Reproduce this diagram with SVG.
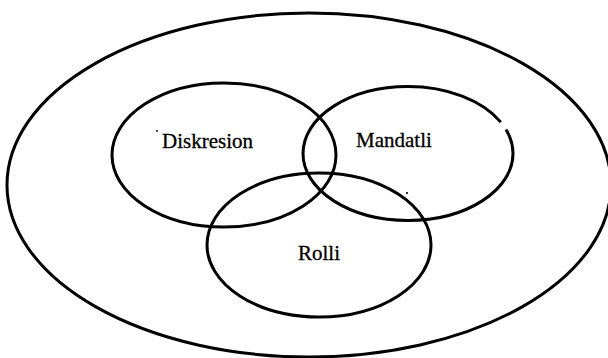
<svg xmlns="http://www.w3.org/2000/svg" width="608" height="358" viewBox="0 0 608 358">
<style>
.ring{fill:none;stroke:#000;stroke-width:3}
.lbl{font-family:"Liberation Serif","Times New Roman",serif;font-size:21px;fill:#000;stroke:#000;stroke-width:0.3}
.dot{fill:#000}
</style>
<rect width="608" height="358" fill="#fff"/>
<g id="outer"><ellipse class="ring" cx="309" cy="185" rx="302" ry="172"/></g>
<g id="diskresion"><ellipse class="ring" cx="224" cy="155" rx="112" ry="72"/><text class="lbl" x="162" y="148">Diskresion</text></g>
<g id="mandatli"><ellipse class="ring" cx="408" cy="153.5" rx="105" ry="67" stroke-dasharray="512 9 100"/><text class="lbl" x="356" y="147">Mandatli</text></g>
<g id="rolli"><ellipse class="ring" cx="319" cy="245" rx="112" ry="72"/><text class="lbl" x="298" y="260">Rolli</text></g>
<circle class="dot" cx="157" cy="131" r="0.9"/>
<circle class="dot" cx="407" cy="193" r="1.1"/>
</svg>
